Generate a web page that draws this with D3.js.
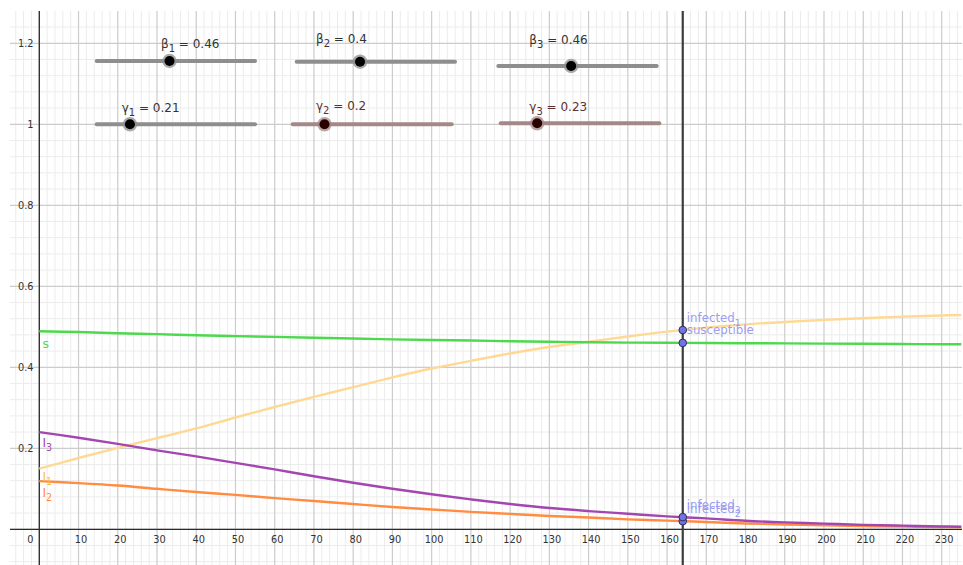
<!DOCTYPE html>
<html><head><meta charset="utf-8">
<script src="https://cdn.jsdelivr.net/npm/d3@7"></script>
<style>html,body{margin:0;padding:0;background:#fff;overflow:hidden}svg{display:block;font-family:"DejaVu Sans",sans-serif}</style>
</head><body><svg id="c" width="963" height="565"></svg>
<script>
// ---- data ----
const days        = [0,10,20,30,40,50,60,70,80,90,100,110,120,130,140,150,160,170,180,190,200,210,220,230,235];
const susceptible = [0.489,0.487,0.484,0.482,0.479,0.477,0.475,0.473,0.471,0.469,0.4675,0.466,0.4645,0.463,0.462,0.461,0.4605,0.46,0.4595,0.459,0.4585,0.458,0.4575,0.457,0.457];
const infected1   = [0.150,0.176,0.201,0.225,0.249,0.276,0.302,0.327,0.351,0.375,0.397,0.416,0.434,0.450,0.463,0.476,0.488,0.498,0.506,0.512,0.517,0.521,0.525,0.528,0.529];
const infected2   = [0.119,0.114,0.108,0.100,0.092,0.085,0.077,0.070,0.0625,0.055,0.049,0.043,0.038,0.033,0.029,0.0245,0.0215,0.018,0.0145,0.012,0.010,0.008,0.0065,0.0055,0.005];
const infected3   = [0.240,0.226,0.211,0.195,0.180,0.164,0.148,0.131,0.115,0.100,0.0864,0.074,0.0625,0.0526,0.045,0.0385,0.032,0.027,0.021,0.017,0.014,0.011,0.009,0.007,0.0064];
const xTickLabels = [10,20,30,40,50,60,70,80,90,100,110,120,130,140,150,160,170,180,190,200,210,220,230];
const yTickLabels = [0.2,0.4,0.6,0.8,1,1.2];
const sliderSymbols = ["β","β","β","γ","γ","γ"];
const sliderSubs    = ["1","2","3","1","2","3"];
const sliderValues  = [0.46,0.4,0.46,0.21,0.2,0.23];
const cursorDay = 164;

// ---- layout ----
const svg = d3.select("#c");
const plot = {l:10, t:11, r:962, b:565};
const x = d3.scaleLinear().domain([0,230]).range([39.3,941.7]);
const y = d3.scaleLinear().domain([0,1]).range([529.3,124.3]);

svg.append("defs").append("clipPath").attr("id","clip")
  .append("rect").attr("x",plot.l).attr("y",plot.t).attr("width",plot.r-plot.l).attr("height",plot.b-plot.t);
const g = svg.append("g").attr("clip-path","url(#clip)");

// grid
const xMin = x.invert(plot.l), xMax = x.invert(plot.r);
const yMin = y.invert(plot.b), yMax = y.invert(plot.t);
const xMinor = d3.range(Math.ceil(xMin/2)*2, xMax, 2);
const yMinor = d3.range(Math.ceil(yMin/0.04), Math.floor(yMax/0.04)+1).map(k=>k*0.04);
g.selectAll(".vmin").data(xMinor.filter(v=>Math.abs(v%10)>1e-6)).join("line")
  .attr("x1",d=>x(d)).attr("x2",d=>x(d)).attr("y1",plot.t).attr("y2",plot.b)
  .attr("stroke","#ececec").attr("stroke-width",1);
g.selectAll(".hmin").data(yMinor.filter(v=>Math.abs(Math.round(v/0.04))%5!==0)).join("line")
  .attr("y1",d=>y(d)).attr("y2",d=>y(d)).attr("x1",plot.l).attr("x2",plot.r)
  .attr("stroke","#ececec").attr("stroke-width",1);
g.selectAll(".vmaj").data(xMinor.filter(v=>Math.abs(v%10)<1e-6)).join("line")
  .attr("x1",d=>x(d)).attr("x2",d=>x(d)).attr("y1",plot.t).attr("y2",plot.b)
  .attr("stroke","#cccccc").attr("stroke-width",1.2);
g.selectAll(".hmaj").data(yMinor.filter(v=>Math.abs(Math.round(v/0.04))%5===0)).join("line")
  .attr("y1",d=>y(d)).attr("y2",d=>y(d)).attr("x1",plot.l).attr("x2",plot.r)
  .attr("stroke","#cccccc").attr("stroke-width",1.2);

// axes
g.append("line").attr("x1",plot.l).attr("x2",plot.r).attr("y1",y(0)).attr("y2",y(0)).attr("stroke","#2b2b2b").attr("stroke-width",1.3);
g.append("line").attr("x1",x(0)).attr("x2",x(0)).attr("y1",plot.t).attr("y2",plot.b).attr("stroke","#2b2b2b").attr("stroke-width",1.3);

// tick labels
svg.selectAll(".xt").data(xTickLabels).join("text")
  .attr("x",d=>x(d)+2.5).attr("y",543).attr("text-anchor","middle")
  .attr("font-size",9.8).attr("fill","#333").text(d=>d);
svg.append("text").attr("x",33.5).attr("y",543).attr("text-anchor","end").attr("font-size",9.8).attr("fill","#333").text("0");
svg.selectAll(".yt").data(yTickLabels).join("text")
  .attr("x",33.5).attr("y",d=>y(d)+3.6).attr("text-anchor","end")
  .attr("font-size",9.8).attr("fill","#333").text(d=>d);

// curves
const line = d3.line().x(d=>x(d[0])).y(d=>y(d[1])).curve(d3.curveCatmullRom.alpha(0.5));
const series = [
  {vals:infected1, color:"#ffd993"},
  {vals:susceptible, color:"#4dd84d"},
  {vals:infected2, color:"#ff8c40"},
  {vals:infected3, color:"#a346b0"}
];
series.forEach(s=>{
  g.append("path").datum(days.map((d,i)=>[d,s.vals[i]]))
    .attr("d",line).attr("fill","none").attr("stroke",s.color).attr("stroke-width",2.4);
});

// curve labels
function subLabel(px,py,main,sub,color,fs){
  const t = svg.append("text").attr("x",px).attr("y",py).attr("fill",color).attr("font-size",fs);
  t.append("tspan").text(main);
  if(sub) t.append("tspan").attr("dy",fs*0.35).attr("font-size",fs*0.8).text(sub);
  return t;
}
subLabel(42.5,348,"s","","#4dd84d",12.5);
subLabel(42.5,447,"I","3","#a346b0",12);
subLabel(42.5,481,"I","1","#f5c04a",12);
subLabel(42.5,497,"I","2","#ff8c40",12);

// cursor line
svg.append("line").attr("x1",x(cursorDay)).attr("x2",x(cursorDay)).attr("y1",plot.t).attr("y2",plot.b)
  .attr("stroke","#3d3d3d").attr("stroke-width",2.2);

// cursor points
const interp = vals => d3.scaleLinear().domain(days).range(vals)(cursorDay);
const pts = [
  {v:interp(infected1), name:"infected", sub:"1"},
  {v:interp(susceptible), name:"susceptible", sub:""},
  {v:interp(infected2), name:"infected", sub:"2"},
  {v:interp(infected3), name:"infected", sub:"3"}
];
pts.forEach(p=>{
  subLabel(x(cursorDay)+4,y(p.v)-8.5,p.name,p.sub,"#9d9df2",11.8);
});
svg.selectAll(".pt").data(pts).join("circle")
  .attr("cx",x(cursorDay)).attr("cy",d=>y(d.v)).attr("r",3.8)
  .attr("fill","#7373e8").attr("stroke","#2f2f4f").attr("stroke-width",1);

// sliders
const sliderLayout = [
  {x0:96.7, x1:255,   y:61,    lx:161,   ly:48,    line:"#8e8e8e", knob:"#000",    txt:"#333"},
  {x0:296.7,x1:455,   y:61.7,  lx:316,   ly:42.7,  line:"#8e8e8e", knob:"#000",    txt:"#333"},
  {x0:498.3,x1:656.7, y:66,    lx:529.3, ly:44.3,  line:"#8e8e8e", knob:"#000",    txt:"#333"},
  {x0:96.7, x1:255,   y:124.3, lx:121.7, ly:111.7, line:"#8e8e8e", knob:"#000",    txt:"#333"},
  {x0:292.7,x1:451.7, y:124.3, lx:316,   ly:110,   line:"#a48888", knob:"#2a0000", txt:"#5e3030"},
  {x0:500.7,x1:659.3, y:123.3, lx:529.3, ly:110.5, line:"#a48888", knob:"#2a0000", txt:"#5e3030"}
];
sliderValues.forEach((v,i)=>{
  const L = sliderLayout[i];
  const sx = d3.scaleLinear().domain([0,1]).range([L.x0,L.x1]);
  svg.append("line").attr("x1",sx(0)).attr("x2",sx(1)).attr("y1",L.y).attr("y2",L.y)
    .attr("stroke",L.line).attr("stroke-width",4).attr("stroke-linecap","round");
  svg.append("circle").attr("cx",sx(v)).attr("cy",L.y).attr("r",7.2).attr("fill",L.line).attr("opacity",0.75);
  svg.append("circle").attr("cx",sx(v)).attr("cy",L.y).attr("r",5).attr("fill",L.knob);
  const t = svg.append("text").attr("x",L.lx).attr("y",L.ly).attr("fill",L.txt).attr("font-size",12);
  t.append("tspan").text(sliderSymbols[i]);
  t.append("tspan").attr("dy",4).attr("font-size",10).text(sliderSubs[i]);
  t.append("tspan").attr("dy",-4).text(" = " + v);
});
</script></body></html>
